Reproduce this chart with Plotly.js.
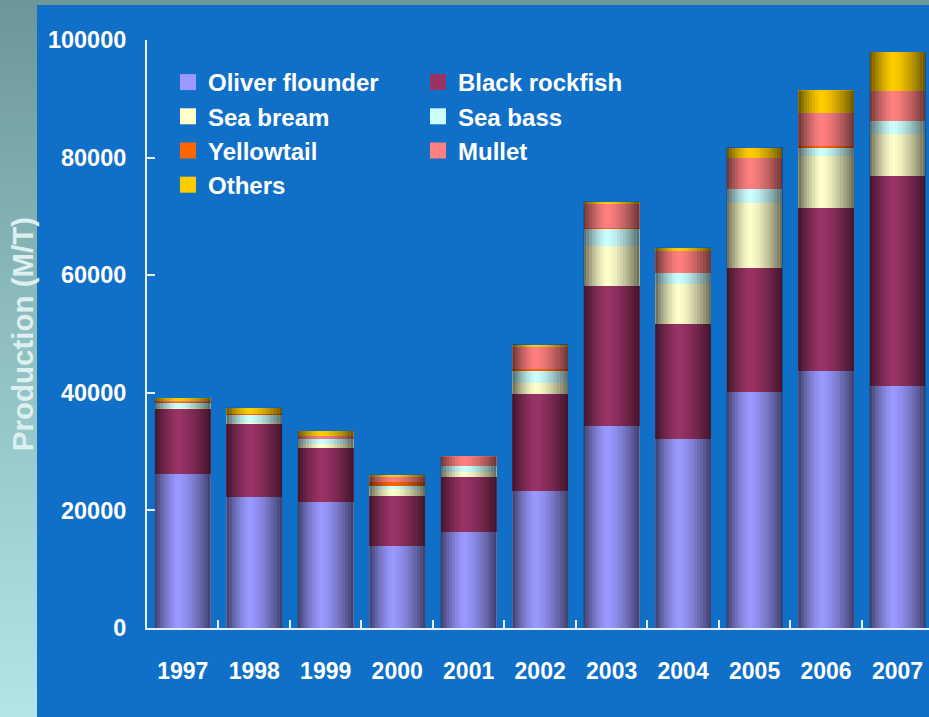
<!DOCTYPE html>
<html>
<head>
<meta charset="utf-8">
<script src="https://cdn.plot.ly/plotly-3.0.1.min.js"></script>
<style>
html, body { margin: 0; padding: 0; width: 929px; height: 717px; overflow: hidden;
  background: linear-gradient(to bottom, #6C9697 0%, #8DBDBE 45%, #B2E6E6 100%); }
#chart { width: 929px; height: 717px; }
</style>
</head>
<body>
<div id="chart"></div>
<script>
// ---- data (metric tons) ----
const years = ['1997','1998','1999','2000','2001','2002','2003','2004','2005','2006','2007'];
const oliverFlounder = [26200, 22300, 21400, 13950, 16300, 23300, 34350, 32150, 40200, 43700, 41150];
const blackRockfish  = [11000, 12400,  9200,  8500,  9350, 16500, 23800, 19550, 21100, 27700, 35700];
const seaBream       = [  300,   200,   700,  1200,   850,  1850,  6800,  6800, 10950,  8900,  7150];
const seaBass        = [  700,  1250,   850,   500,  1000,  2050,  2900,  1850,  2450,  1300,  2200];
const yellowtail     = [  200,   300,     0,   750,     0,   350,   200,     0,     0,   350,     0];
const mullet         = [  200,     0,   550,   850,  1700,  3700,  4050,  3750,  5300,  5600,  5100];
const others         = [  500,  1000,   800,   300,     0,   450,   400,   550,  1700,  3900,  6650];
const seriesNames  = ['Oliver flounder','Black rockfish','Sea bream','Sea bass','Yellowtail','Mullet','Others'];
const seriesValues = [oliverFlounder, blackRockfish, seaBream, seaBass, yellowtail, mullet, others];
const seriesColors = ['#9999FF','#993366','#FFFFCC','#CCFFFF','#FF6600','#FF8080','#FFCC00'];
const seriesLegend = ['legend','legend2','legend','legend2','legend','legend2','legend'];
const yTickVals = [0, 20000, 40000, 60000, 80000, 100000];

// ---- layout geometry ----
const W = 929, H = 717;
const M = {l: 147, r: 0, t: 40, b: 89};
const pw = W - M.l - M.r, ph = H - M.t - M.b;
const px2x = p => (p - M.l) / pw;
const px2y = p => (H - M.b - p) / ph;
const barFrac = 0.78;

const traces = seriesNames.map((name, i) => ({
  type: 'bar',
  name: name,
  x: years,
  y: seriesValues[i],
  marker: {color: seriesColors[i], line: {width: 0}},
  showlegend: false,
  hoverinfo: 'x+y+name'
}));
// legend-only entries (larger square swatches), nothing drawn in the plot
seriesNames.forEach((name, i) => {
  traces.push({
    type: 'scatter', mode: 'markers', name: name,
    x: [years[0]], y: [null],
    marker: {symbol: 'square', size: 16, color: seriesColors[i], line: {width: 0}},
    legend: seriesLegend[i], showlegend: true, hoverinfo: 'skip'
  });
});

// cylinder shading, built from the stacked totals
const totals = years.map((_, j) => seriesValues.reduce((s, arr) => s + arr[j], 0));
const shapes = [{
  type: 'rect', xref: 'paper', yref: 'paper', layer: 'below',
  x0: px2x(37), x1: px2x(940), y0: px2y(720), y1: px2y(5),
  fillcolor: '#1070C8', line: {width: 0}
}];
const nStrips = 20;
totals.forEach((tot, j) => {
  const left = j - barFrac / 2;
  for (let k = 0; k < nStrips; k++) {
    const t = (k + 0.5) / nStrips;
    const peak = 0.42;
    const d = t < peak ? (peak - t) / peak : (t - peak) / (1 - peak);
    const a = 0.6 * Math.pow(d, 1.5);
    shapes.push({
      type: 'rect', xref: 'x', yref: 'y', layer: 'above',
      x0: left + k * barFrac / nStrips, x1: left + (k + 1) * barFrac / nStrips + 0.0005,
      y0: 0, y1: tot,
      fillcolor: 'rgba(0,0,0,' + a.toFixed(3) + ')', line: {width: 0}
    });
  }
});

const fontFam = 'Arial, "Liberation Sans", sans-serif';
const legendFont = {family: fontFam, size: 24, color: '#FFFFFF', weight: 'bold'};
const layout = {
  width: W, height: H,
  margin: M,
  paper_bgcolor: 'rgba(0,0,0,0)',
  plot_bgcolor: 'rgba(0,0,0,0)',
  barmode: 'stack',
  bargap: 1 - barFrac,
  font: {family: fontFam, color: '#FFFFFF', size: 24, weight: 'bold'},
  xaxis: {
    type: 'category',
    range: [-0.5, 10.44],
    showline: true, linecolor: '#E8EEF6', linewidth: 2,
    ticks: 'inside', tickson: 'boundaries', ticklen: 8, tickcolor: '#E8EEF6', tickwidth: 2,
    showgrid: false, zeroline: false,
    tickfont: {family: fontFam, size: 23, color: '#FFFFFF', weight: 'bold'},
    ticklabelstandoff: 21
  },
  yaxis: {
    range: [0, 100000],
    tickvals: yTickVals,
    tickformat: 'd',
    showline: true, linecolor: '#E8EEF6', linewidth: 2,
    ticks: 'inside', ticklen: 8, tickcolor: '#E8EEF6', tickwidth: 2,
    showgrid: false, zeroline: false,
    tickfont: {family: fontFam, size: 23.5, color: '#FFFFFF', weight: 'bold'},
    ticklabelstandoff: 14,
    title: {text: 'Production (M/T)', font: {family: fontFam, size: 29.5, color: '#DDEFEF', weight: 'bold'}, standoff: 6}
  },
  legend: {
    x: px2x(168), y: px2y(60), xanchor: 'left', yanchor: 'top',
    orientation: 'v', traceorder: 'normal', bgcolor: 'rgba(0,0,0,0)',
    font: legendFont
  },
  legend2: {
    x: px2x(418), y: px2y(60), xanchor: 'left', yanchor: 'top',
    orientation: 'v', traceorder: 'normal', bgcolor: 'rgba(0,0,0,0)',
    font: legendFont
  },
  shapes: shapes
};

Plotly.newPlot('chart', traces, layout, {displayModeBar: false, staticPlot: true});
</script>
</body>
</html>
